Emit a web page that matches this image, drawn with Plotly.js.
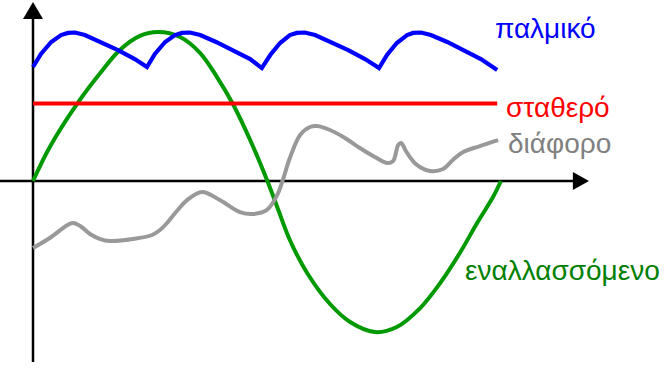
<!DOCTYPE html>
<html>
<head>
<meta charset="utf-8">
<script src="https://cdn.plot.ly/plotly-3.0.1.min.js"></script>
<style>html,body{margin:0;padding:0;background:#fff;}#chart{width:665px;height:371px;}</style>
</head>
<body>
<div id="chart"></div>
<script>
// Time axis: one full alternating period = 100 units; amplitude axis: peak = 100 units
var pulsedT = [0, 1.7, 3.9, 6.0, 7.5, 9.0, 11.1, 14.6, 18.2, 21.8, 24.4,
               26.1, 28.3, 30.4, 31.9, 33.6, 35.8, 39.2, 42.8, 46.5, 49.0,
               50.8, 52.9, 55.0, 56.5, 58.2, 60.4, 63.8, 67.5, 71.1, 74.1,
               75.8, 77.9, 80.1, 81.4, 83.1, 85.2, 88.7, 92.3, 95.9, 99.4];
var pulsedV = [76.0, 84.7, 92.7, 97.3, 98.7, 99.0, 97.3, 92.7, 87.3, 81.3, 76.0,
               84.7, 92.7, 97.3, 98.7, 99.0, 97.3, 92.7, 87.3, 81.3, 75.3,
               84.0, 92.0, 97.3, 98.7, 99.0, 97.3, 92.7, 87.3, 81.3, 75.3,
               84.0, 92.0, 97.3, 98.7, 99.0, 97.3, 92.7, 87.3, 81.3, 74.0];

var constantT = [0, 99.4];
var constantV = [51.7, 51.7];

var variedT = [0, 3.6, 8.4, 10.1, 12.2, 14.4, 16.5, 21.4, 25.5, 27.2, 28.7, 30.8, 33.0,
               36.2, 40.0, 44.3, 47.1, 50.1, 52.3, 53.5, 55.0, 57.2, 59.3, 60.8, 63.6,
               66.8, 70.0, 73.2, 75.8, 77.1, 78.2, 78.8, 80.1, 82.2, 85.0, 87.8, 89.9,
               92.1, 95.7, 99.6];
var variedV = [-44.7, -38.0, -28.0, -30.0, -35.3, -38.7, -40.0, -38.7, -36.0, -32.7, -28.0, -20.0, -12.7,
               -7.3, -12.7, -20.7, -22.0, -19.3, -9.3, 0.7, 15.3, 30.7, 36.0, 36.7, 34.0,
               28.7, 22.0, 16.0, 12.0, 13.3, 24.0, 25.3, 18.7, 10.7, 6.7, 8.0, 14.0,
               19.3, 23.3, 27.3];

var alternatingT = [0, 3.6, 9.4, 14.4, 18.6, 22.9, 26.8, 31.5, 35.8, 39.4, 42.8, 46.5, 50.1,
                    52.3, 55.0, 58.7, 63.6, 67.9, 73.2, 77.9, 82.9, 87.2, 91.4, 95.1, 98.5, 100.2];
var alternatingV = [0, 22.7, 51.3, 72.0, 87.3, 96.7, 99.3, 96.0, 85.3, 69.3, 51.3, 27.3, 0.7,
                    -17.3, -39.3, -61.3, -82.0, -94.0, -100.7, -97.3, -84.7, -68.0, -48.0, -28.0, -10.7, 0];

var labels = ["παλμικό", "σταθερό", "διάφορο", "εναλλασσόμενο"];
var colors = {pulsed: "#0000ff", constant: "#ff0000", varied: "#999999", alternating: "#009900"};
var textColors = ["#0000ff", "#ff0000", "#808080", "#008000"];

var traces = [
  {x: alternatingT, y: alternatingV, mode: "lines", line: {color: colors.alternating, width: 4, shape: "spline"}, hoverinfo: "skip"},
  {x: variedT, y: variedV, mode: "lines", line: {color: colors.varied, width: 4, shape: "spline"}, hoverinfo: "skip"},
  {x: constantT, y: constantV, mode: "lines", line: {color: colors.constant, width: 4}, hoverinfo: "skip"},
  {x: pulsedT, y: pulsedV, mode: "lines", line: {color: colors.pulsed, width: 4.2}, hoverinfo: "skip"}
];

var labelPos = [[98.8, 101.8], [101.0, 48.8], [101.6, 24.8], [92.2, -59.8]];
var annotations = labels.map(function (t, i) {
  return {x: labelPos[i][0], y: labelPos[i][1], xref: "x", yref: "y", text: t, showarrow: false,
          xanchor: "left", yanchor: "middle", borderpad: 0,
          font: {family: "Liberation Sans, Arial, sans-serif", size: 28, color: textColors[i]}};
});

var layout = {
  width: 665, height: 371,
  margin: {l: 0, r: 0, t: 0, b: 0, pad: 0},
  paper_bgcolor: "#ffffff", plot_bgcolor: "#ffffff",
  showlegend: false,
  xaxis: {range: [-7.066, 135.33], visible: false, fixedrange: true},
  yaxis: {range: [-126.67, 120.67], visible: false, fixedrange: true},
  shapes: [
    {type: "line", xref: "x", yref: "y", x0: 0, x1: 0, y0: -120.7, y1: 110.7, line: {color: "#000", width: 2.5}, layer: "below"},
    {type: "path", xref: "x", yref: "y", path: "M -2.14 108 L 0 119.3 L 2.14 108 Z", fillcolor: "#000", line: {color: "#000", width: 0}},
    {type: "line", xref: "x", yref: "y", x0: -7.07, x1: 116.1, y0: 0, y1: 0, line: {color: "#000", width: 2.5}, layer: "below"},
    {type: "path", xref: "x", yref: "y", path: "M 115.6 6 L 119.06 0 L 115.6 -6 Z", fillcolor: "#000", line: {color: "#000", width: 0}}
  ],
  annotations: annotations
};

Plotly.newPlot("chart", traces, layout, {displayModeBar: false, staticPlot: true});
</script>
</body>
</html>
